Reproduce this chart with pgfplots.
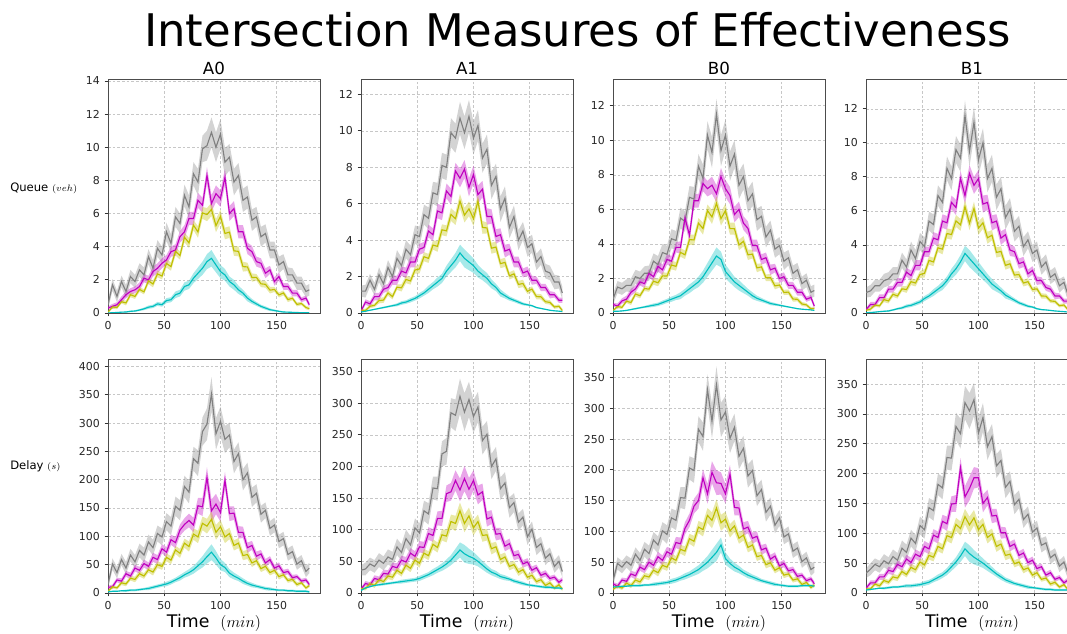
\documentclass[border=0pt]{standalone}
\usepackage{pgfplots}
\usepackage{pgfplotstable}
\pgfplotsset{compat=1.18}
\usepgfplotslibrary{fillbetween}
\usepackage{fontspec}
\setmainfont{DejaVu Sans}
\definecolor{sgray}{HTML}{808080}
\definecolor{smag}{HTML}{BF00BF}
\definecolor{syel}{HTML}{BFBF00}
\definecolor{scya}{HTML}{00BFBF}

% Queue (veh): band half-widths gw mw yw cw, then means for A0 (1), A1 (2), B0 (3), B1 (4)
\pgfplotstableread{
t gw mw yw cw g1 m1 y1 c1 g2 m2 y2 c2 g3 m3 y3 c3 g4 m4 y4 c4
0 .3 .1 .05 .02 0.5 0.3 0.05 0.0 1.2 0.1 0.16 0.05 0.8 0.5 0.14 0.10 1.2 0.2 0.16 0.02
4 .35 .15 .1 .02 1.7 0.4 0.37 0.02 1.2 0.6 0.14 0.10 1.5 0.4 0.37 0.10 1.3 0.5 0.23 0.03
8 .35 .15 .1 .03 1.0 0.5 0.33 0.03 1.8 0.5 0.37 0.15 1.4 0.7 0.33 0.12 1.6 0.5 0.47 0.05
12 .35 .2 .1 .03 1.9 0.8 0.68 0.05 1.3 0.9 0.42 0.20 1.6 0.8 0.68 0.15 1.6 0.9 0.42 0.08
16 .4 .2 .15 .04 1.3 1.1 0.61 0.06 2.1 0.9 0.68 0.25 1.6 1.2 0.61 0.20 1.9 0.9 0.79 0.10
20 .4 .2 .15 .05 2.2 1.3 1.10 0.10 1.6 1.3 0.71 0.30 2.1 1.4 1.10 0.25 2.0 1.4 0.71 0.12
24 .4 .2 .15 .05 1.9 1.4 1.00 0.12 2.5 1.4 1.10 0.35 2.0 1.8 1.00 0.30 2.3 1.4 1.10 0.18
28 .4 .25 .15 .06 2.6 1.6 1.42 0.18 2.0 1.8 0.90 0.40 2.3 1.7 1.42 0.35 2.3 1.8 1.00 0.25
32 .45 .25 .15 .08 2.3 2.1 1.28 0.25 3.0 1.8 1.42 0.45 2.3 2.3 1.38 0.40 3.1 1.8 1.42 0.30
36 .45 .25 .2 .1 3.4 2.0 1.94 0.35 2.6 2.3 1.38 0.55 3.0 2.1 1.84 0.45 2.7 2.4 1.38 0.40
40 .5 .3 .2 .1 2.7 2.5 1.75 0.40 3.5 2.2 1.84 0.60 2.8 2.7 1.75 0.50 3.7 2.2 1.84 0.45
44 .5 .3 .2 .12 3.9 2.7 2.36 0.55 3.2 2.8 1.76 0.70 3.5 2.5 2.15 0.60 3.2 2.8 1.76 0.55
48 .5 .3 .2 .12 3.5 3.0 2.23 0.50 4.3 2.8 2.36 0.80 3.4 3.1 2.14 0.70 4.2 2.8 2.26 0.65
52 .55 .3 .25 .15 4.9 3.2 2.99 0.75 4.2 3.5 2.42 0.95 4.3 3.0 2.78 0.80 3.9 3.6 2.33 0.85
56 .55 .3 .25 .15 4.2 3.7 2.80 0.80 5.4 3.6 3.09 1.10 4.2 3.8 2.70 0.90 5.4 3.6 3.09 1.00
60 .6 .35 .25 .2 5.8 3.8 3.72 1.10 5.2 4.5 3.00 1.30 5.5 3.8 3.51 1.00 5.2 4.4 3.00 1.20
64 .6 .35 .25 .2 5.4 4.6 3.47 1.20 6.6 4.3 3.73 1.50 5.3 5.5 3.37 1.20 6.9 4.3 3.83 1.40
68 .65 .4 .3 .25 7.1 4.9 4.57 1.60 6.5 5.6 3.66 1.70 6.7 4.5 4.25 1.40 6.5 5.4 3.75 1.60
72 .7 .4 .3 .25 6.4 5.7 4.23 1.70 8.1 5.5 4.57 1.90 6.6 6.5 4.23 1.60 8.5 5.3 4.67 1.90
76 .7 .4 .3 .3 8.4 5.7 5.30 2.10 8.0 6.7 4.51 2.30 8.5 6.5 5.20 1.80 7.9 6.5 4.61 2.30
80 .8 .45 .35 .35 7.9 6.8 4.89 2.40 9.9 6.4 5.41 2.60 7.8 7.5 4.89 2.10 9.6 6.2 5.41 2.60
84 .8 .45 .35 .4 9.9 6.5 6.04 2.70 9.6 7.8 5.18 2.90 10.3 7.2 5.93 2.50 9.1 7.9 5.18 3.00
88 .9 .5 .4 .45 10.1 8.3 5.94 3.10 10.7 7.4 6.14 3.30 9.3 7.4 5.56 2.90 11.6 6.9 6.25 3.50
92 .9 .5 .4 .5 10.9 6.6 6.25 3.30 9.9 7.9 5.37 3.00 11.5 6.9 6.35 3.30 9.5 8.2 5.27 3.20
96 .9 .5 .4 .45 10.0 7.2 5.27 2.90 10.8 6.9 5.72 2.80 9.4 7.9 5.46 3.10 11.2 7.5 6.14 2.90
100 .9 .5 .4 .4 10.8 6.9 5.83 2.50 9.6 7.6 5.18 2.60 10.3 7.2 5.93 2.40 9.0 7.9 4.99 2.60
104 .85 .5 .35 .35 9.1 8.2 4.80 2.30 10.3 6.5 6.14 2.30 8.5 6.8 4.89 2.10 10.0 6.4 5.30 2.30
108 .8 .45 .35 .3 9.4 6.0 4.88 1.90 8.5 6.8 4.70 2.10 9.2 5.7 4.88 1.80 7.9 6.5 4.42 2.00
112 .8 .45 .3 .3 7.9 6.3 3.75 1.70 9.0 5.3 4.67 1.90 7.4 6.0 3.94 1.60 8.5 5.3 4.57 1.70
116 .75 .4 .3 .25 8.3 4.9 3.72 1.40 7.0 5.3 3.56 1.60 7.9 5.2 4.15 1.40 6.8 5.4 3.56 1.50
120 .7 .4 .3 .2 6.8 4.9 2.80 1.20 7.5 4.2 3.62 1.40 6.5 4.9 3.37 1.20 7.3 4.4 3.62 1.30
124 .7 .35 .25 .2 7.0 3.9 2.78 0.90 5.7 4.3 2.71 1.10 6.9 3.9 3.41 1.00 5.6 4.6 2.80 1.05
128 .65 .35 .25 .15 5.6 3.7 2.14 0.70 6.3 3.4 2.78 0.95 5.4 3.9 2.61 0.85 6.1 3.7 2.89 0.90
132 .6 .3 .2 .12 5.8 3.1 2.15 0.55 4.7 3.5 2.04 0.80 5.6 3.1 2.67 0.75 4.8 3.6 2.23 0.75
136 .6 .3 .2 .1 4.6 3.0 1.76 0.40 5.3 2.8 2.15 0.70 4.4 3.2 2.04 0.65 5.1 2.9 2.26 0.60
140 .55 .3 .2 .1 4.8 2.4 1.73 0.30 4.0 2.8 1.57 0.60 4.8 2.5 2.05 0.55 3.9 3.0 1.76 0.50
144 .5 .25 .2 .08 3.8 2.6 1.38 0.20 4.5 2.2 1.62 0.50 3.7 2.6 1.57 0.50 4.3 2.3 1.84 0.40
148 .5 .25 .15 .06 3.8 1.9 1.42 0.15 3.6 2.3 1.19 0.45 3.9 2.0 1.62 0.45 3.5 2.5 1.38 0.35
152 .5 .25 .15 .05 2.9 2.2 1.09 0.10 3.8 1.8 1.31 0.40 3.0 2.1 1.19 0.40 3.7 1.9 1.42 0.25
156 .45 .2 .15 .04 3.1 1.6 1.21 0.06 2.8 1.8 0.90 0.30 3.2 1.6 1.21 0.35 2.7 1.9 1.00 0.20
160 .45 .2 .15 .03 2.3 1.6 0.81 0.05 3.1 1.4 0.89 0.25 2.3 1.6 0.81 0.30 3.0 1.5 0.99 0.18
164 .4 .2 .12 .03 2.3 1.2 0.89 0.04 2.3 1.4 0.62 0.20 2.5 1.2 0.79 0.25 2.1 1.4 0.71 0.15
168 .4 .2 .12 .02 1.8 1.2 0.52 0.03 2.2 1.0 0.58 0.15 1.7 1.2 0.52 0.22 2.3 1.0 0.68 0.12
172 .4 .15 .1 .02 1.8 0.8 0.57 0.02 1.7 1.0 0.33 0.12 1.9 0.8 0.47 0.20 1.6 1.0 0.43 0.10
176 .35 .15 .1 .02 1.3 0.9 0.33 0.02 1.7 0.7 0.37 0.10 1.2 0.9 0.24 0.18 1.8 0.7 0.47 0.08
179 .35 .15 .1 .01 1.4 0.5 0.26 0.01 1.1 0.7 0.14 0.08 1.3 0.4 0.26 0.15 1.2 0.7 0.24 0.06
}\Qtab

% Delay (s): band half-widths gw mw yw cw, then means for A0 (1), A1 (2), B0 (3), B1 (4)
\pgfplotstableread{
t gw mw yw cw g1 m1 y1 c1 g2 m2 y2 c2 g3 m3 y3 c3 g4 m4 y4 c4
0 8 3 2 1 15 10 3 2 36 6 7 4 20 15 6 10 33 8 7 5
4 10 4 3 1 51 11 11 3 38 15 7 8 48 11 11 10 40 17 7 6
8 10 4 3 1 36 23 9 3 46 13 15 10 42 21 8 11 48 17 15 7
12 10 5 4 1 59 21 18 4 42 23 12 12 51 19 16 11 44 27 12 8
16 11 5 4 2 44 34 16 4 52 21 21 13 45 31 12 12 54 27 21 8
20 11 6 4 2 67 30 26 5 47 31 18 14 63 28 21 12 49 38 18 9
24 12 6 5 2 55 44 24 5 57 30 27 15 53 42 18 12 61 36 27 10
28 12 6 5 2 75 40 34 6 53 42 25 16 71 38 28 13 55 48 25 10
32 13 7 5 2 67 52 30 7 73 40 36 17 64 50 26 13 75 44 36 11
36 13 7 5 3 90 47 41 8 64 52 31 18 86 45 37 14 68 57 31 12
40 14 8 6 3 80 63 37 10 86 49 44 19 78 59 33 15 92 51 43 12
44 14 8 6 3 105 59 50 12 76 63 39 20 101 53 45 16 83 65 39 13
48 15 8 6 3 99 78 47 14 103 58 52 21 95 67 42 17 113 61 52 14
52 15 9 7 4 126 72 63 16 95 73 47 23 122 63 57 19 106 78 47 16
56 16 9 7 4 118 94 58 19 130 72 63 26 118 82 53 21 143 74 63 18
60 17 10 7 4 153 89 76 23 125 94 59 29 155 80 71 24 138 97 60 22
64 18 10 8 5 146 111 70 27 166 91 77 33 154 105 68 27 182 93 78 26
68 19 11 8 5 188 121 88 32 165 118 72 37 203 118 88 30 176 120 74 30
72 20 12 9 6 178 128 82 36 220 118 92 41 199 141 84 34 227 116 96 36
76 21 13 10 7 237 120 104 41 224 157 90 46 266 150 107 38 226 149 93 44
80 23 14 11 8 229 154 99 48 285 160 113 52 254 187 103 44 279 150 115 52
84 25 16 12 10 285 152 123 55 281 178 110 60 330 161 126 50 267 210 108 62
88 28 18 13 12 298 204 118 64 311 163 130 68 279 196 118 58 319 161 128 74
92 30 20 14 14 351 145 130 72 286 181 110 62 338 179 138 66 305 175 114 66
96 28 18 13 12 281 157 107 62 306 164 122 58 281 178 114 78 324 193 126 60
100 26 16 12 10 303 142 117 50 279 178 103 55 294 161 120 56 268 193 106 55
104 24 15 11 8 271 199 99 45 294 155 113 50 251 193 101 48 294 150 115 50
108 22 13 10 7 279 140 105 35 241 160 91 44 269 139 109 42 245 160 93 44
112 21 12 9 6 232 141 84 30 251 117 92 38 222 138 89 38 262 129 99 38
116 20 11 9 5 246 107 88 26 200 120 70 33 235 104 94 33 213 130 78 32
120 19 10 8 5 200 107 66 21 212 93 73 30 190 107 74 29 222 101 82 27
124 18 9 8 4 212 80 68 17 165 94 53 26 199 89 78 26 177 101 63 22
128 17 8 7 4 169 84 53 14 174 74 57 24 158 92 59 23 187 78 65 19
132 16 8 6 3 176 65 57 12 135 78 42 22 168 70 61 20 148 82 49 16
136 15 7 6 3 139 69 43 10 143 59 45 19 131 73 46 18 157 63 52 14
140 14 7 6 3 146 53 47 8 112 61 33 17 141 55 49 16 123 67 39 12
144 13 6 5 3 114 59 36 7 120 46 37 15 110 60 37 14 132 51 42 10
148 13 6 5 2 120 44 40 6 89 49 25 13 122 44 41 13 102 55 30 9
152 12 6 5 2 91 48 29 5 101 36 28 12 91 48 29 12 109 41 34 8
156 12 5 4 2 96 36 32 5 72 40 18 11 96 36 31 11 80 44 23 7
160 11 5 4 2 68 38 22 4 78 28 21 10 68 38 21 11 84 30 25 6
164 11 5 4 2 73 27 24 4 55 31 12 9 73 27 23 11 59 34 15 6
168 10 4 4 2 51 29 15 3 62 23 16 9 51 29 14 12 65 23 18 5
172 10 4 3 2 57 21 18 3 42 25 8 8 57 20 17 12 45 26 10 5
176 10 4 3 2 38 23 9 3 50 17 13 8 38 23 9 12 52 17 14 5
179 9 4 3 2 44 15 13 2 34 21 6 7 42 15 13 11 36 21 7 5
}\Dtab

% #1 table, #2 mean column, #3 band column, #4 colour
\newcommand{\series}[4]{%
  \addplot[draw=none, name path=u#2] table[x=t, y expr=\thisrow{#2}+\thisrow{#3}] {#1};
  \addplot[draw=none, name path=l#2] table[x=t, y expr=\thisrow{#2}-\thisrow{#3}] {#1};
  \addplot[fill=#4, fill opacity=0.35, draw=none] fill between[of=u#2 and l#2];
  \addplot[color=#4, line width=0.85pt] table[x=t, y=#2] {#1};
}
\newcommand{\allseries}[2]{%
  \series{#1}{g#2}{gw}{sgray}\series{#1}{m#2}{mw}{smag}%
  \series{#1}{y#2}{yw}{syel}\series{#1}{c#2}{cw}{scya}}

\pgfplotsset{panel/.style={
  scale only axis, width=159pt, height=175.5pt, anchor=north west,
  xmin=0, xmax=188.5, ymin=0, xtick={0,50,100,150},
  grid=major, major grid style={dash pattern=on 2pt off 1.5pt, black!22, line width=0.4pt},
  axis line style={black!70, line width=0.6pt},
  tick align=outside, tick pos=left, major tick length=2.6pt,
  tick style={black!80, line width=0.6pt},
  tick label style={font=\fontsize{8.2}{9}\selectfont, text=black!85},
  /pgf/number format/assume math mode=true,
  no markers, scaled y ticks=false,
}}

\begin{document}
\begin{tikzpicture}
\node[font=\fontsize{33.7}{38}\selectfont] at (433.1pt,-22.5pt) {Intersection Measures of Effectiveness};
\foreach \xx/\lab in {160.5/A0, 350.25/A1, 539.25/B0, 729/B1}
  \node[font=\fontsize{12.5}{14}\selectfont] at (\xx pt,-51pt) {\lab};
\foreach \xx in {160.5, 350.25, 539.25, 729}
  \node[font=\fontsize{13}{15}\selectfont] at (\xx pt,-467.25pt) {Time\ \ $(min)$};
\node[anchor=west, inner xsep=0pt, font=\fontsize{8.7}{10}\selectfont] at (7.5pt,-141pt) {Queue {\fontsize{7.5}{9}\selectfont$(veh)$}};
\node[anchor=west, inner xsep=0pt, font=\fontsize{8.7}{10}\selectfont] at (7.5pt,-349.5pt) {Delay {\fontsize{7.5}{9}\selectfont$(s)$}};

% Queue row
\begin{axis}[panel, at={(81pt,-59.25pt)}, ymax=14.12, ytick={0,2,...,14}]
\allseries{\Qtab}{1}
\end{axis}
\begin{axis}[panel, at={(270.75pt,-59.25pt)}, ymax=12.85, ytick={0,2,...,12}]
\allseries{\Qtab}{2}
\end{axis}
\begin{axis}[panel, at={(459.75pt,-59.25pt)}, ymax=13.55, ytick={0,2,...,12}]
\allseries{\Qtab}{3}
\end{axis}
\begin{axis}[panel, at={(649.5pt,-59.25pt)}, ymax=13.75, ytick={0,2,...,12}]
\allseries{\Qtab}{4}
\end{axis}

% Delay row
\begin{axis}[panel, at={(81pt,-269.25pt)}, ymax=413, ytick={0,50,...,400}]
\allseries{\Dtab}{1}
\end{axis}
\begin{axis}[panel, at={(270.75pt,-269.25pt)}, ymax=370, ytick={0,50,...,350}]
\allseries{\Dtab}{2}
\end{axis}
\begin{axis}[panel, at={(459.75pt,-269.25pt)}, ymax=380, ytick={0,50,...,350}]
\allseries{\Dtab}{3}
\end{axis}
\begin{axis}[panel, at={(649.5pt,-269.25pt)}, ymax=392, ytick={0,50,...,350}]
\allseries{\Dtab}{4}
\end{axis}

\pgfresetboundingbox
\path[use as bounding box] (0,0) rectangle (800.25pt,-475.5pt);
\end{tikzpicture}
\end{document}
